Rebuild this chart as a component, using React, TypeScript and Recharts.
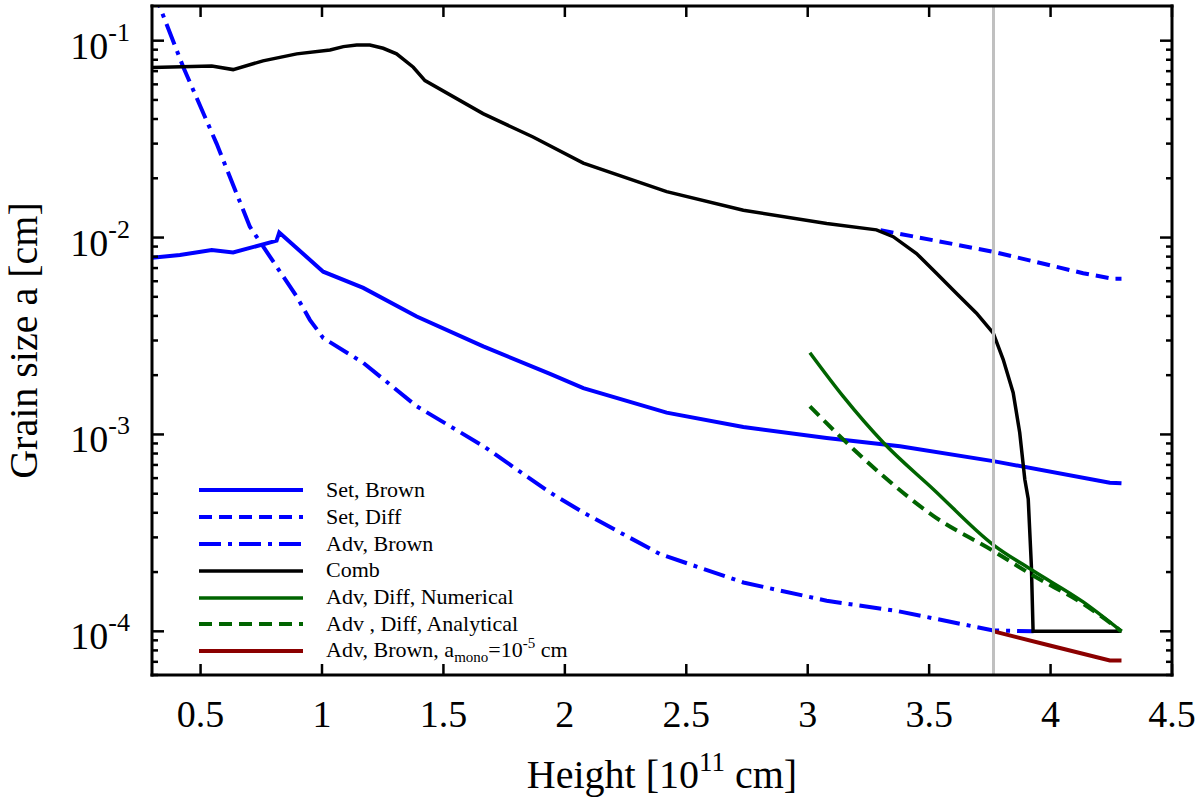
import React from "react";
import { LineChart, Line, XAxis, YAxis, ReferenceLine, Legend } from "recharts";

const FONT = "Liberation Serif";

// x in units of 1e11 cm, y = grain size in cm
const setBrownX = [0.3, 0.415, 0.546, 0.634, 0.813, 0.824, 1.005, 1.17, 1.39, 1.664, 1.939, 2.076, 2.419, 2.735, 3.078, 3.38, 3.764, 4.244, 4.292];
const setBrownY = [0.0079, 0.00815, 0.00865, 0.0084, 0.00964, 0.0106, 0.00671, 0.00555, 0.00397, 0.0028, 0.00203, 0.00172, 0.00129, 0.00109, 0.00096, 0.00087, 0.000732, 0.000569, 0.000565];

const setDiffX = [3.3, 3.764, 4.134, 4.258, 4.292];
const setDiffY = [0.0109, 0.00847, 0.00659, 0.00617, 0.00617];

const advBrownX = [0.3, 0.333, 0.429, 0.566, 0.703, 0.896, 0.95, 1.005, 1.17, 1.39, 1.664, 1.939, 2.076, 2.391, 2.735, 3.078, 3.366, 3.764, 3.93];
const advBrownY = [0.188, 0.1476, 0.0733, 0.03, 0.01135, 0.00501, 0.00382, 0.00309, 0.00231, 0.00139, 0.000873, 0.000507, 0.000401, 0.000247, 0.000177, 0.000143, 0.000127, 0.000101, 0.0001];

const combX = [0.3, 0.546, 0.634, 0.757, 0.896, 1.033, 1.088, 1.143, 1.197, 1.252, 1.307, 1.376, 1.424, 1.663, 1.869, 2.076, 2.419, 2.735, 3.078, 3.283, 3.352, 3.448, 3.53, 3.612, 3.695, 3.764, 3.805, 3.846, 3.873, 3.894, 3.908, 3.921, 3.928, 4.292];
const combY = [0.073, 0.0744, 0.0713, 0.079, 0.0857, 0.0897, 0.0933, 0.0951, 0.0951, 0.0915, 0.0857, 0.0733, 0.0627, 0.0426, 0.0324, 0.0239, 0.0171, 0.01377, 0.0118, 0.01094, 0.0101, 0.0083, 0.00659, 0.00522, 0.00413, 0.00327, 0.0024, 0.00163, 0.00102, 0.00059, 0.00047, 0.000215, 0.0001, 0.0001];

const numX = [3.009, 3.146, 3.311, 3.517, 3.764, 3.928, 4.134, 4.292];
const numY = [0.0026, 0.00156, 0.00091, 0.000527, 0.000275, 0.000203, 0.000141, 0.0001];

const anaX = [3.009, 3.132, 3.311, 3.517, 3.764, 3.928, 4.134, 4.292];
const anaY = [0.00139, 0.00098, 0.000615, 0.000386, 0.000256, 0.000192, 0.000138, 0.0001];

const monoX = [3.766, 3.997, 4.244, 4.292];
const monoY = [0.0001, 0.0000847, 0.0000711, 0.000071];

const markerX = 3.765;

const xTicks = [0.5, 1, 1.5, 2, 2.5, 3, 3.5, 4, 4.5];
const yMajor = [1e-4, 1e-3, 1e-2, 1e-1];
const yMinorMult = [2, 3, 4, 5, 6, 7, 8, 9];
const yExtraMinor = [6e-5, 7e-5, 8e-5, 9e-5];
const yTicks = [...yExtraMinor, ...yMajor.flatMap((d) => [d, ...yMinorMult.map((m) => m * d)])].filter((v) => v <= 0.15);

const zip = (xs: number[], ys: number[]) => xs.map((x, i) => ({ x, y: ys[i] }));

const series = [
  { name: "Set, Brown", data: zip(setBrownX, setBrownY), color: "#0000ff", width: 4, dash: undefined, curve: "linear" },
  { name: "Set, Diff", data: zip(setDiffX, setDiffY), color: "#0000ff", width: 4, dash: "13 7", curve: "linear" },
  { name: "Adv, Brown", data: zip(advBrownX, advBrownY), color: "#0000ff", width: 4, dash: "22 7 4 7", curve: "linear" },
  { name: "Comb", data: zip(combX, combY), color: "#000000", width: 3.5, dash: undefined, curve: "linear" },
  { name: "Adv, Diff, Numerical", data: zip(numX, numY), color: "#006400", width: 3.5, dash: undefined, curve: "monotone" },
  { name: "Adv , Diff, Analytical", data: zip(anaX, anaY), color: "#006400", width: 4, dash: "13 7", curve: "monotone" },
  { name: "mono", data: zip(monoX, monoY), color: "#8b0000", width: 4, dash: undefined, curve: "linear" },
];

const isMajor = (v: number) => {
  const l = Math.log10(v);
  return Math.abs(l - Math.round(l)) < 1e-6;
};

const LeftTick = (p: any) => {
  const v = p.payload.value;
  const major = isMajor(v);
  return (
    <g>
      <line x1={p.x} x2={p.x + (major ? 12 : 6)} y1={p.y} y2={p.y} stroke="#000" strokeWidth={2.5} />
      {major && (
        <text x={p.x - 22} y={p.y + 18} textAnchor="end" fontFamily={FONT} fontSize={38} fill="#000">
          10<tspan dy={-18} fontSize={26}>{String(Math.round(Math.log10(v)))}</tspan>
        </text>
      )}
    </g>
  );
};

const RightTick = (p: any) => {
  const major = isMajor(p.payload.value);
  return <line x1={p.x} x2={p.x - (major ? 12 : 6)} y1={p.y} y2={p.y} stroke="#000" strokeWidth={2.5} />;
};

const BottomTick = (p: any) => (
  <g>
    <line x1={p.x} x2={p.x} y1={p.y} y2={p.y - 11} stroke="#000" strokeWidth={2.5} />
    <text x={p.x} y={p.y + 52} textAnchor="middle" fontFamily={FONT} fontSize={38} fill="#000">
      {String(p.payload.value)}
    </text>
  </g>
);

const TopTick = (p: any) => <line x1={p.x} x2={p.x} y1={p.y} y2={p.y + 11} stroke="#000" strokeWidth={2.5} />;

const LegendBox = () => (
  <div style={{ fontFamily: FONT, fontSize: 22, color: "#000" }}>
    {series.map((s) => (
      <div key={s.name} style={{ display: "flex", alignItems: "center", height: 26.8 }}>
        <svg width={104} height={8} style={{ display: "block" }}>
          <line x1={0} x2={104} y1={4} y2={4} stroke={s.color} strokeWidth={s.width} strokeDasharray={s.dash} />
        </svg>
        <span style={{ marginLeft: 23, whiteSpace: "pre", lineHeight: "26.8px" }}>
          {s.name === "mono" ? (
            <>
              Adv, Brown, a<span style={{ fontSize: 15, position: "relative", top: 5 }}>mono</span>=10
              <span style={{ fontSize: 15, position: "relative", top: -9 }}>-5</span> cm
            </>
          ) : (
            s.name
          )}
        </span>
      </div>
    ))}
  </div>
);

const axisLine = { stroke: "#000", strokeWidth: 3, strokeLinecap: "square" as const };

export default function App() {
  return (
    <div style={{ position: "absolute", left: 0, top: 0, width: 1200, height: 799, background: "#fff" }}>
      <LineChart width={1200} height={799} margin={{ top: 5, right: 0, bottom: 0, left: 0 }}>
        <XAxis
          xAxisId="b"
          dataKey="x"
          type="number"
          domain={[0.3, 4.5]}
          allowDataOverflow
          ticks={xTicks}
          interval={0}
          height={124}
          tickSize={0}
          tickMargin={0}
          tickLine={false}
          axisLine={axisLine}
          tick={(p: any) => <BottomTick {...p} />}
          label={(p: any) => {
            const vb = p.viewBox;
            return (
              <text x={vb.x + vb.width / 2} y={vb.y + 113} textAnchor="middle" fontFamily={FONT} fontSize={40} fill="#000" style={{ whiteSpace: "pre" }}>
                Height [10<tspan dy={-17} fontSize={27}>11</tspan>
                <tspan dy={17}> cm]</tspan>
              </text>
            );
          }}
        />
        <XAxis
          xAxisId="t"
          orientation="top"
          type="number"
          dataKey="x"
          domain={[0.3, 4.5]}
          allowDataOverflow
          ticks={xTicks}
          interval={0}
          height={1}
          tickSize={0}
          tickMargin={0}
          tickLine={false}
          axisLine={axisLine}
          tick={(p: any) => <TopTick {...p} />}
        />
        <YAxis
          yAxisId="l"
          type="number"
          scale="log"
          domain={[6e-5, 0.15]}
          allowDataOverflow
          ticks={yTicks}
          interval={0}
          width={152}
          tickSize={0}
          tickMargin={0}
          tickLine={false}
          axisLine={axisLine}
          tick={(p: any) => <LeftTick {...p} />}
          label={(p: any) => {
            const vb = p.viewBox;
            const cy = vb.y + vb.height / 2;
            return (
              <text x={37} y={cy} transform={`rotate(-90, 37, ${cy})`} textAnchor="middle" fontFamily={FONT} fontSize={40} fill="#000">
                Grain size a [cm]
              </text>
            );
          }}
        />
        <YAxis
          yAxisId="r"
          orientation="right"
          type="number"
          scale="log"
          domain={[6e-5, 0.15]}
          allowDataOverflow
          ticks={yTicks}
          interval={0}
          width={28}
          tickSize={0}
          tickMargin={0}
          tickLine={false}
          axisLine={axisLine}
          tick={(p: any) => <RightTick {...p} />}
        />
        {series.map((s) => (
          <Line
            key={s.name}
            xAxisId="b"
            yAxisId="l"
            data={s.data}
            dataKey="y"
            name={s.name}
            type={s.curve as any}
            stroke={s.color}
            strokeWidth={s.width}
            strokeDasharray={s.dash}
            dot={false}
            activeDot={false}
            isAnimationActive={false}
          />
        ))}
        <ReferenceLine xAxisId="b" yAxisId="l" x={markerX} stroke="#c0c0c0" strokeWidth={3} />
        <Legend
          layout="vertical"
          align="center"
          verticalAlign="middle"
          content={() => <LegendBox />}
          wrapperStyle={{ left: 199, top: 477, width: 440, height: 190 }}
        />
      </LineChart>
    </div>
  );
}
